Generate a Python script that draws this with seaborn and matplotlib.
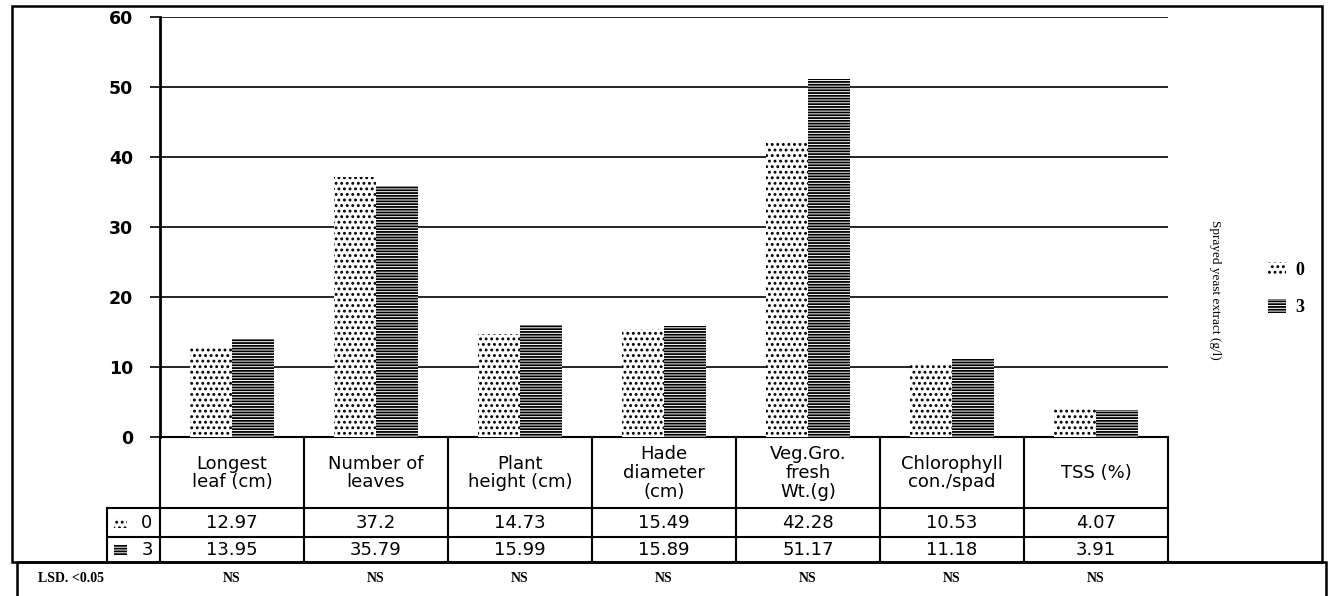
import numpy as np
import pandas as pd
import seaborn as sns
import matplotlib.pyplot as plt
import matplotlib.transforms as mtransforms
from matplotlib.patches import Rectangle, Patch

# data
traits = ['Longest\nleaf (cm)', 'Number of\nleaves', 'Plant\nheight (cm)',
          'Hade\ndiameter\n(cm)', 'Veg.Gro.\nfresh\nWt.(g)',
          'Chlorophyll\ncon./spad', 'TSS (%)']
yeast_0 = [12.97, 37.2, 14.73, 15.49, 42.28, 10.53, 4.07]
yeast_3 = [13.95, 35.79, 15.99, 15.89, 51.17, 11.18, 3.91]
levels = ['0', '3']
lsd = ['NS', 'NS', 'NS', 'NS', 'NS', 'NS', 'NS']
yticks = [0, 10, 20, 30, 40, 50, 60]

hatches = ['...', '------']
plt.rcParams['hatch.linewidth'] = 1.3

df = pd.DataFrame({'trait': traits * 2,
                   'extract': [levels[0]] * 7 + [levels[1]] * 7,
                   'value': yeast_0 + yeast_3})

W, H = 1332, 596
fig = plt.figure(figsize=(W / 100, H / 100), dpi=100)
ax = fig.add_axes([160 / W, 1 - 437 / H, (1168 - 160) / W, 420 / H])
ax.patch.set_alpha(0)

sns.barplot(data=df, x='trait', y='value', hue='extract', palette=['white', 'white'],
            width=0.58, edgecolor='black', linewidth=0, legend=False, ax=ax, zorder=3)
for cont, h in zip(ax.containers, hatches):
    for bar in cont:
        bar.set_hatch(h)

ax.set_ylim(0, 60)
ax.set_xlim(-0.5, 6.5)
ax.set_yticks(yticks)
ax.set_xticks([])
ax.set_xlabel('')
ax.set_ylabel('')
ax.yaxis.grid(True, color='black', lw=1.2)
ax.set_axisbelow(True)
for s in ['top', 'right']:
    ax.spines[s].set_visible(False)
ax.spines['left'].set_linewidth(2)
ax.spines['bottom'].set_linewidth(1.5)
ax.tick_params(axis='y', length=7.5, width=1.2, pad=12, labelsize=12.5)
for lab in ax.get_yticklabels():
    lab.set_fontweight('bold')

# overlay in pixel coordinates for the data table and frames
tab = fig.add_axes([0, 0, 1, 1])
tab.set_xlim(0, W)
tab.set_ylim(H, 0)
tab.axis('off')
bt = mtransforms.blended_transform_factory(ax.transData, tab.transData)

tab.add_patch(Rectangle((12, 6), 1310, 556, fill=False, lw=1.8, ec='black'))
tab.add_patch(Rectangle((17, 562), 1309, 60, fill=False, lw=1.8, ec='black'))

for k in range(8):
    tab.plot([k - 0.5, k - 0.5], [437, 562], color='black', lw=1.5, transform=bt)
for yy in [508, 537]:
    tab.plot([107, 1168], [yy, yy], color='black', lw=1.5)
tab.plot([107, 107], [508, 562], color='black', lw=1.5)

for i, t in enumerate(traits):
    tab.text(i, 473, t, transform=bt, ha='center', va='center', fontsize=13,
             linespacing=1.05)
    tab.text(i, 523, f'{yeast_0[i]:g}', transform=bt, ha='center', va='center', fontsize=13)
    tab.text(i, 550, f'{yeast_3[i]:g}', transform=bt, ha='center', va='center', fontsize=13)
    tab.text(i, 578, lsd[i], transform=bt, ha='center', va='center', fontsize=10,
             family='Liberation Serif', fontweight='bold')

for yy, lv, h in zip([523, 550], levels, hatches):
    tab.add_patch(Rectangle((114, yy - 5), 13, 10, facecolor='white', edgecolor='black',
                            lw=0, hatch=h))
    tab.text(147, yy, lv, ha='center', va='center', fontsize=13)

tab.text(38, 578, 'LSD. <0.05', ha='left', va='center', fontsize=10,
         family='Liberation Serif', fontweight='bold')

# legend
handles = [Patch(facecolor='white', edgecolor='black', lw=0, hatch=h) for h in hatches]
fig.legend(handles, levels, loc='center left', bbox_to_anchor=(1252 / W, 1 - 289 / H),
           frameon=False, handlelength=1.0, handleheight=0.8, handletextpad=0.5,
           labelspacing=1.1, prop={'family': 'Liberation Serif', 'weight': 'bold', 'size': 13})
fig.text(1215 / W, 1 - 290 / H, 'Sprayed yeast extract (g/l)', rotation=270,
         ha='center', va='center', fontsize=9.5, family='Liberation Serif')

fig.savefig('out.png', dpi=100)
